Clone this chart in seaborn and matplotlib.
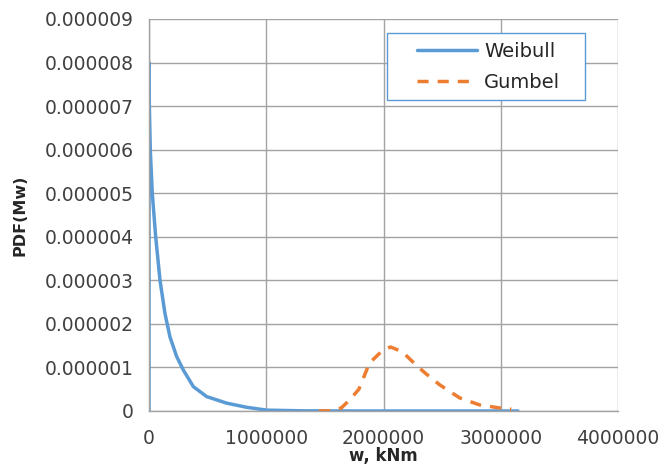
import matplotlib
matplotlib.use("Agg")
import matplotlib.pyplot as plt
import seaborn as sns
import pandas as pd
from matplotlib.patches import Rectangle
from matplotlib.ticker import FixedLocator, FuncFormatter

# Data
weibull_x = [0, 0, 3000, 11000, 28000, 57000, 94000, 136000, 179000, 236000, 293000,
             378000, 492000, 663000, 833000, 1004000, 1300000, 1800000, 2500000, 3147000]
weibull_y = [0, 8.0e-6, 7.0e-6, 6.0e-6, 5.0e-6, 4.0e-6, 3.0e-6, 2.24e-6, 1.70e-6, 1.25e-6, 0.94e-6,
             0.56e-6, 0.33e-6, 0.18e-6, 0.085e-6, 0.02e-6, 0.004e-6, 0.0, 0.0, 0.0]

gumbel_x = [1450000, 1550000, 1640000, 1710000, 1790000, 1880000, 1980000, 2060000, 2160000,
            2280000, 2360000, 2480000, 2650000, 2820000, 2990000, 3090000]
gumbel_y = [0.0, 0.005e-6, 0.07e-6, 0.25e-6, 0.5e-6, 1.1e-6, 1.36e-6, 1.47e-6, 1.36e-6,
            1.05e-6, 0.86e-6, 0.6e-6, 0.3e-6, 0.14e-6, 0.07e-6, 0.04e-6]

x_ticks = [0, 1000000, 2000000, 3000000, 4000000]
y_ticks = [i * 1e-6 for i in range(10)]

df_w = pd.DataFrame({"x": weibull_x, "y": weibull_y, "s": "Weibull"})
df_g = pd.DataFrame({"x": gumbel_x, "y": gumbel_y, "s": "Gumbel"})

sns.set_style("white")
plt.rcParams["font.family"] = ["DejaVu Sans"]

W, H = 662, 468
fig = plt.figure(figsize=(W / 100, H / 100), dpi=100)
ax = fig.add_axes([149 / W, 1 - 411 / H, 469 / W, 392 / H])

blue = "#5b9bd5"
orange = "#ed7d31"
sns.lineplot(data=df_w, x="x", y="y", ax=ax, sort=False, estimator=None,
             color=blue, linewidth=2.5, label="Weibull", zorder=2)
sns.lineplot(data=df_g, x="x", y="y", ax=ax, sort=False, estimator=None,
             color=orange, linewidth=2.5, label="Gumbel", zorder=3)
ax.lines[1].set_linestyle((0, (3.2, 2.6)))

ax.set_xlim(0, 4000000)
ax.set_ylim(0, 9e-6)
ax.xaxis.set_major_locator(FixedLocator(x_ticks))
ax.yaxis.set_major_locator(FixedLocator(y_ticks))
ax.xaxis.set_major_formatter(FuncFormatter(lambda v, p: f"{int(round(v))}"))
ax.yaxis.set_major_formatter(FuncFormatter(lambda v, p: "0" if abs(v) < 1e-12 else f"{v:.6f}"))

ax.grid(True, color="#a3a3a3", linewidth=1.0)
ax.set_axisbelow(True)
for side in ["top", "right"]:
    ax.spines[side].set_visible(False)
for side in ["left", "bottom"]:
    ax.spines[side].set_color("#a3a3a3")
    ax.spines[side].set_linewidth(1.0)

ax.tick_params(axis="both", which="major", direction="out", length=5, width=1,
               color="#a3a3a3", labelsize=13.5, labelcolor="#404040")
ax.tick_params(axis="y", pad=6)
ax.tick_params(axis="x", pad=8)

ax.set_xlabel("w, kNm", fontsize=12, fontweight="bold", color="#262626", labelpad=-1)
ax.set_ylabel("PDF(Mw)", fontsize=11.5, fontweight="bold", color="#262626", labelpad=12)

# legend box (Excel style)
def fx(px):
    return (px - 149) / 469

def fy(py):
    return (411 - py) / 392

rect = Rectangle((fx(387), fy(100)), fx(585) - fx(387), fy(33) - fy(100),
                 transform=ax.transAxes, facecolor="white", edgecolor=blue,
                 linewidth=1.0, zorder=4, clip_on=False)
ax.add_patch(rect)
leg = ax.legend(loc="upper left", bbox_to_anchor=(fx(417), fy(42)),
                frameon=False, fontsize=14, handlelength=3.1,
                borderpad=0, borderaxespad=0, labelspacing=0.6, handletextpad=0.35)
leg.set_zorder(5)
for t in leg.get_texts():
    t.set_color("#262626")

fig.savefig("out.png", dpi=100)
